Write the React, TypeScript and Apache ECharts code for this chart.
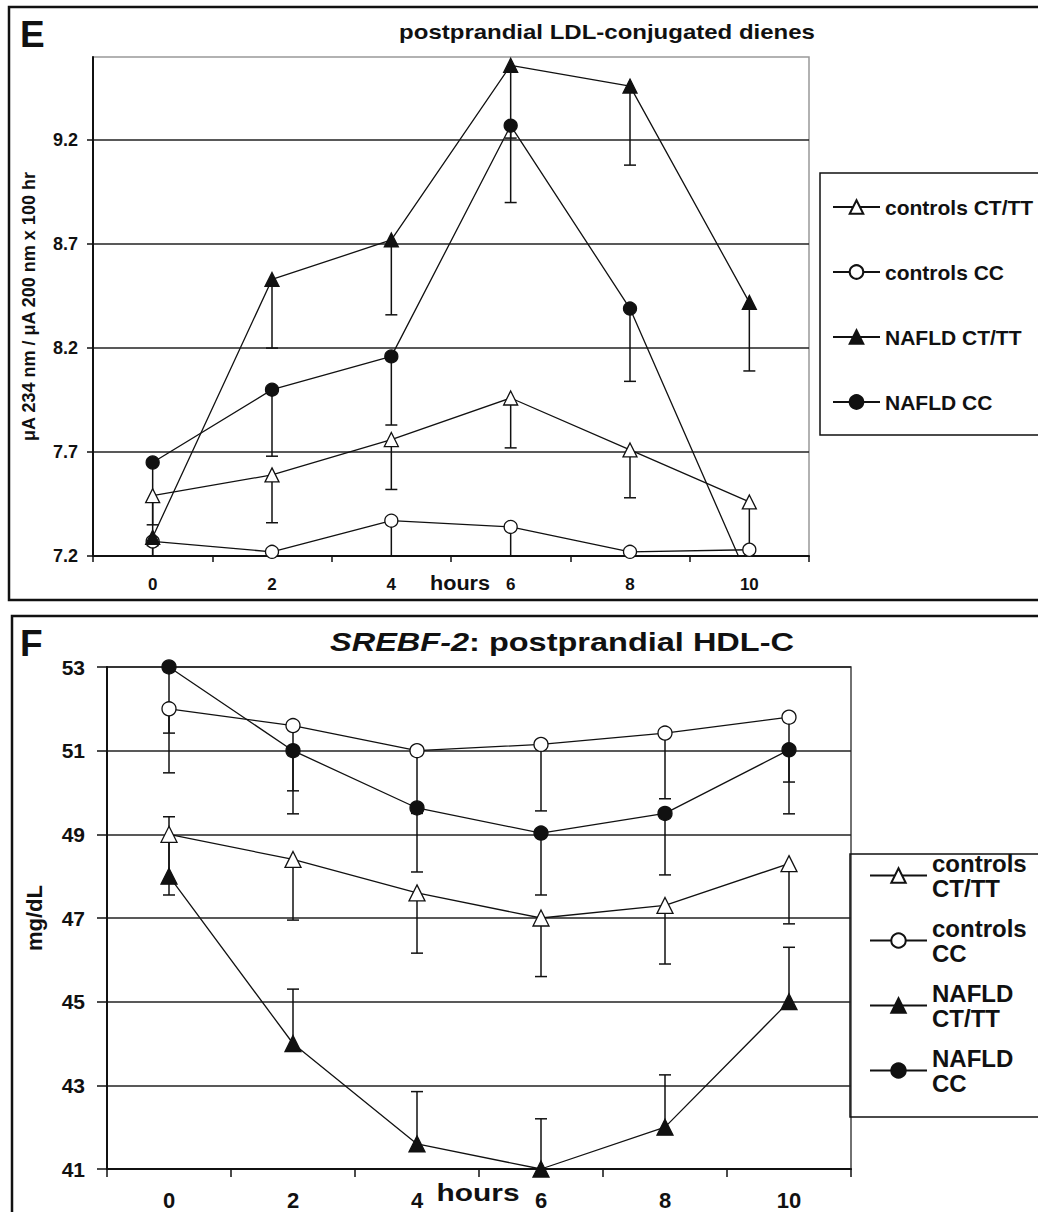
import React, { useEffect, useRef } from 'react';
import * as echarts from 'echarts';

// ---------- data ----------
const hours = ['0', '2', '4', '6', '8', '10'];
const seriesNames = ['controls CT/TT', 'controls CC', 'NAFLD CT/TT', 'NAFLD CC'];

// Panel E: postprandial LDL-conjugated dienes (means and error-bar end values)
const ldlControlsCTTT = [7.49, 7.59, 7.76, 7.96, 7.71, 7.46];
const ldlControlsCTTTErr = [7.25, 7.36, 7.52, 7.72, 7.48, 7.16];
const ldlControlsCC = [7.27, 7.22, 7.37, 7.34, 7.22, 7.23];
const ldlControlsCCErr = [7.05, 7.0, 7.15, 7.12, 7.0, 7.0];
const ldlNafldCTTT = [7.29, 8.53, 8.72, 9.56, 9.46, 8.42];
const ldlNafldCTTTErr = [6.95, 8.2, 8.36, 9.21, 9.08, 8.09];
const ldlNafldCC = [7.65, 8.0, 8.16, 9.27, 8.39, 7.08];
const ldlNafldCCErr = [7.35, 7.68, 7.83, 8.9, 8.04, 6.7];
const ldlAxis = { min: 7.2, max: 9.6, interval: 0.5 };

// Panel F: SREBF-2 postprandial HDL-C (mg/dL)
const hdlControlsCTTT = [49.0, 48.4, 47.6, 47.0, 47.3, 48.3];
const hdlControlsCTTTErr = [47.55, 46.95, 46.16, 45.6, 45.9, 46.86];
const hdlControlsCC = [52.0, 51.6, 51.0, 51.15, 51.42, 51.8];
const hdlControlsCCErr = [50.47, 50.04, 49.5, 49.56, 49.85, 50.25];
const hdlNafldCTTT = [48.0, 44.0, 41.6, 41.0, 42.0, 45.0];
const hdlNafldCTTTErr = [49.42, 45.3, 42.85, 42.2, 43.25, 46.3];
const hdlNafldCC = [53.0, 51.0, 49.63, 49.03, 49.5, 51.02];
const hdlNafldCCErr = [51.42, 49.49, 48.1, 47.55, 48.03, 49.49];
const hdlAxis = { min: 41, max: 53, interval: 2 };

// ---------- styling ----------
const FONT = '"Liberation Sans", Arial, Helvetica, sans-serif';
const INK = '#111';
const markerStyles = [
  { symbol: 'triangle', fill: '#fff' },
  { symbol: 'circle', fill: '#fff' },
  { symbol: 'triangle', fill: INK },
  { symbol: 'circle', fill: INK },
];

function errRender(ymin: number) {
  return (params: any, api: any) => {
    const xi = api.value(0);
    const v = api.value(1);
    const e = api.value(2);
    if (v < ymin) return null;
    const end = Math.max(e, ymin);
    const p1 = api.coord([xi, v]);
    const p2 = api.coord([xi, end]);
    const children: any[] = [
      { type: 'line', shape: { x1: p1[0], y1: p1[1], x2: p2[0], y2: p2[1] }, style: { stroke: INK, lineWidth: 1.5 } },
    ];
    if (e >= ymin) {
      children.push({ type: 'line', shape: { x1: p2[0] - 6, y1: p2[1], x2: p2[0] + 6, y2: p2[1] }, style: { stroke: INK, lineWidth: 1.5 } });
    }
    return { type: 'group', children };
  };
}

function buildSeries(idx: number, means: number[][], ends: number[][], ymin: number, sizes: number[], clip: boolean) {
  const out: any[] = [];
  means.forEach((m, k) => {
    out.push({
      type: 'custom',
      name: 'err' + idx + '-' + k,
      xAxisIndex: idx,
      yAxisIndex: idx,
      z: 2,
      silent: true,
      dimensions: ['x', 'v', 'e'],
      encode: { x: 0, y: 1 },
      renderItem: errRender(ymin),
      data: m.map((v, i) => [i, v, ends[k][i]]),
    });
  });
  means.forEach((m, k) => {
    const st = markerStyles[k];
    out.push({
      type: 'line',
      name: seriesNames[k],
      xAxisIndex: idx,
      yAxisIndex: idx,
      z: 3,
      clip,
      data: m,
      symbol: st.symbol,
      symbolSize: st.symbol === 'triangle' ? sizes[0] : sizes[1],
      showSymbol: true,
      lineStyle: { color: INK, width: 1.3 },
      itemStyle: { color: st.fill, borderColor: INK, borderWidth: 1.3 },
    });
  });
  return out;
}

export default function App() {
  const ref = useRef<HTMLDivElement>(null);

  useEffect(() => {
    if (!ref.current) return;
    const chart = echarts.init(ref.current, undefined, { renderer: 'svg' });

    const boldText = (size: number) => ({ fontSize: size, fontWeight: 'bold' as const, fontFamily: FONT, color: INK });
    const gText = (text: string, x: number, y: number, size: number, scaleX = 1, align = 'center') => ({
      type: 'text', x, y, scaleX, silent: true,
      style: { text, fontSize: size, fontWeight: 'bold', fontFamily: FONT, fill: INK, align, verticalAlign: 'middle' },
    });

    const option: any = {
      animation: false,
      backgroundColor: '#fff',
      grid: [
        { left: 93, top: 57, width: 716, height: 499, show: true, borderColor: '#999', borderWidth: 1.5, backgroundColor: 'transparent' },
        { left: 107, top: 667, width: 744, height: 502, show: true, borderColor: '#444', borderWidth: 1.5, backgroundColor: 'transparent' },
      ],
      xAxis: [
        {
          type: 'category', gridIndex: 0, data: hours, boundaryGap: true,
          axisLine: { show: true, lineStyle: { color: INK, width: 2 } },
          axisTick: { show: true, length: 6, lineStyle: { color: INK, width: 1.5 } },
          axisLabel: { ...boldText(17), margin: 20 },
          splitLine: { show: false },
        },
        {
          type: 'category', gridIndex: 1, data: hours, boundaryGap: true,
          axisLine: { show: true, lineStyle: { color: INK, width: 2 } },
          axisTick: { show: true, length: 8, lineStyle: { color: INK, width: 1.5 } },
          axisLabel: { ...boldText(22), margin: 20 },
          splitLine: { show: false },
        },
      ],
      yAxis: [
        {
          type: 'value', gridIndex: 0, min: ldlAxis.min, max: ldlAxis.max, interval: ldlAxis.interval,
          axisLine: { show: true, lineStyle: { color: INK, width: 2 } },
          axisTick: { show: true, length: 6, lineStyle: { color: INK, width: 1.5 } },
          axisLabel: { ...boldText(18), margin: 15, showMaxLabel: false, formatter: (v: number) => v.toFixed(1) },
          splitLine: { show: true, showMaxLine: false, lineStyle: { color: '#222', width: 1.5 } },
          name: '\u03bcA 234 nm / \u03bcA 200 nm x 100 hr', nameLocation: 'middle', nameGap: 55,
          nameTextStyle: { ...boldText(18) },
        },
        {
          type: 'value', gridIndex: 1, min: hdlAxis.min, max: hdlAxis.max, interval: hdlAxis.interval,
          axisLine: { show: true, lineStyle: { color: INK, width: 2 } },
          axisTick: { show: true, length: 10, lineStyle: { color: INK, width: 1.5 } },
          axisLabel: { ...boldText(21), margin: 22 },
          splitLine: { show: true, lineStyle: { color: '#222', width: 1.5 } },
          name: 'mg/dL', nameLocation: 'middle', nameGap: 62,
          nameTextStyle: { ...boldText(22) },
        },
      ],
      legend: [
        {
          orient: 'vertical', left: 832, top: 195, padding: 0,
          itemWidth: 47, itemHeight: 17, itemGap: 41,
          selectedMode: false,
          data: seriesNames,
          textStyle: { ...boldText(21), lineHeight: 24 },
        },
        {
          orient: 'vertical', left: 869, top: 838, padding: 0,
          itemWidth: 57, itemHeight: 18, itemGap: -10,
          selectedMode: false,
          data: seriesNames,
          formatter: (n: string) => n.replace(' ', '\n'),
          textStyle: { ...boldText(24), lineHeight: 25, padding: [25, 0, 0, 0] },
        },
      ],
      graphic: [
        { type: 'rect', shape: { x: 9, y: 7, width: 1045, height: 593 }, style: { fill: 'none', stroke: INK, lineWidth: 2.5 }, silent: true },
        { type: 'rect', shape: { x: 12, y: 616, width: 1045, height: 640 }, style: { fill: 'none', stroke: INK, lineWidth: 2.5 }, silent: true },
        { type: 'rect', shape: { x: 820, y: 173, width: 240, height: 262 }, style: { fill: 'none', stroke: INK, lineWidth: 1.5 }, silent: true },
        { type: 'rect', shape: { x: 850, y: 854, width: 220, height: 263 }, style: { fill: 'none', stroke: INK, lineWidth: 1.5 }, silent: true },
        gText('E', 20, 34, 37, 1, 'left'),
        gText('F', 20, 643, 37, 1, 'left'),
        gText('postprandial LDL-conjugated dienes', 607, 32, 20, 1.2),
        gText('hours', 460, 583, 21, 1.03),
        gText('hours', 478, 1193, 23, 1.3),
        {
          type: 'text', x: 562, y: 642, scaleX: 1.3, silent: true,
          style: {
            text: '{i|SREBF-2}{n|: postprandial HDL-C}',
            align: 'center', verticalAlign: 'middle', fill: INK,
            rich: {
              i: { fontSize: 25, fontWeight: 'bold', fontStyle: 'italic', fontFamily: FONT, fill: INK },
              n: { fontSize: 25, fontWeight: 'bold', fontFamily: FONT, fill: INK },
            },
          },
        },
      ],
      series: [
        ...buildSeries(0, [ldlControlsCTTT, ldlControlsCC, ldlNafldCTTT, ldlNafldCC], [ldlControlsCTTTErr, ldlControlsCCErr, ldlNafldCTTTErr, ldlNafldCCErr], ldlAxis.min, [14, 13], true),
        ...buildSeries(1, [hdlControlsCTTT, hdlControlsCC, hdlNafldCTTT, hdlNafldCC], [hdlControlsCTTTErr, hdlControlsCCErr, hdlNafldCTTTErr, hdlNafldCCErr], hdlAxis.min, [16, 14], false),
      ],
    };

    chart.setOption(option);
    return () => chart.dispose();
  }, []);

  return (
    <div style={{ position: 'absolute', left: 0, top: 0, width: 1038, height: 1212, background: '#fff' }}>
      <div ref={ref} style={{ width: 1038, height: 1212 }} />
    </div>
  );
}
